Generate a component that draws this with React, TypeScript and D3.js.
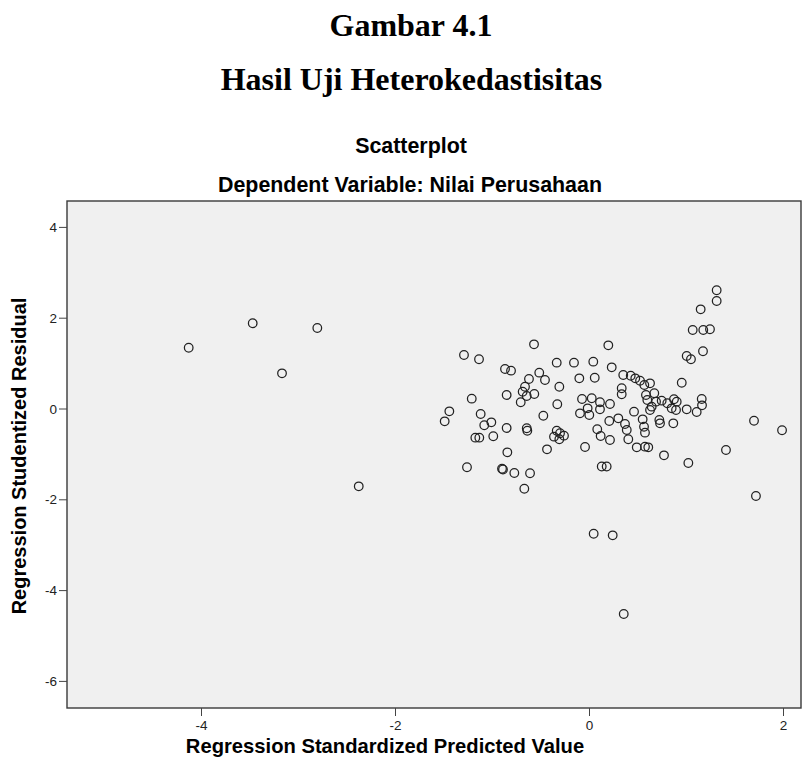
import React from "react";
import * as d3 from "d3";

const xTicks = [-4, -2, 0, 2];
const yTicks = [4, 2, 0, -2, -4, -6];

const predicted = [
  -4.132, -3.472, -2.806, -3.17, -2.379, -1.294, -1.139, -1.214, -1.445, -1.493,
  -1.122, -1.085, -1.012, -1.177, -1.136, -0.992, -1.263, -0.902, -0.892, -0.775,
  -0.613, -0.672, -0.847, -0.438, -0.046, -0.871, -0.809, -0.518, -0.338, -0.16,
  -0.624, -0.459, -0.311, -0.665, -0.689, -0.647, -0.569, -0.709, -0.854, -0.332,
  -0.476, -0.854, -0.647, -0.641, -0.338, -0.366, -0.311, -0.263, -0.304, -0.572,
  0.194, 0.039, 0.229, -0.105, 0.054, 0.348, 0.425, 0.472, 0.521, 0.565,
  0.624, 0.951, 0.332, 0.332, 0.582, 0.668, 0.596, 0.686, 0.641, 0.744,
  0.802, 0.871, 0.899, 0.847, 0.892, 1.002, -0.077, 0.023, 0.108, 0.211,
  0.108, -0.019, -0.098, -0.002, 0.459, 0.624, 0.548, 0.204, 0.297, 0.72,
  0.727, 0.864, 0.366, 0.384, 0.08, 0.562, 0.572, 0.115, 0.211, 0.4,
  0.487, 0.572, 0.606, 0.126, 0.177, 0.768, 1.019, 1.157, 1.16, 1.105,
  1.311, 1.311, 1.146, 1.064, 1.173, 1.242, 1.002, 1.046, 1.17, 1.696,
  1.985, 1.407, 1.716, 0.043, 0.239, 0.353,
];

const residual = [
  1.35, 1.888, 1.784, 0.786, -1.703, 1.189, 1.095, 0.227, -0.051, -0.271,
  -0.11, -0.359, -0.293, -0.632, -0.632, -0.601, -1.284, -1.315, -1.333, -1.41,
  -1.416, -1.756, -0.954, -0.888, -0.837, 0.881, 0.844, 0.8, 1.02, 1.02,
  0.661, 0.639, 0.491, 0.491, 0.381, 0.286, 0.33, 0.148, 0.308, 0.104,
  -0.148, -0.419, -0.425, -0.478, -0.478, -0.61, -0.667, -0.588, -0.535, 1.425,
  1.403, 1.042, 0.918, 0.676, 0.689, 0.749, 0.733, 0.676, 0.623, 0.529,
  0.566, 0.579, 0.456, 0.324, 0.308, 0.346, 0.198, 0.161, 0.051, 0.183,
  0.126, 0.214, 0.161, 0.015, -0.022, -0.007, 0.22, 0.236, 0.148, 0.11,
  -0.007, 0.015, -0.095, -0.132, -0.059, -0.022, -0.227, -0.264, -0.205, -0.242,
  -0.315, -0.315, -0.33, -0.463, -0.447, -0.39, -0.522, -0.595, -0.683, -0.667,
  -0.844, -0.83, -0.844, -1.267, -1.267, -1.02, -1.189, 0.22, 0.081, -0.066,
  2.615, 2.379, 2.196, 1.74, 1.74, 1.756, 1.167, 1.095, 1.271, -0.258,
  -0.469, -0.903, -1.916, -2.747, -2.782, -4.515,
];

const titleLines = ["Gambar 4.1", "Hasil Uji Heterokedastisitas"];
const chartTitle = "Scatterplot";
const chartSubtitle = "Dependent Variable: Nilai Perusahaan";
const xLabel = "Regression Standardized Predicted Value";
const yLabel = "Regression Studentized Residual";

export default function App() {
  const W = 811;
  const H = 769;
  const left = 67;
  const right = 801;
  const top = 201;
  const bottom = 708;

  const x = d3
    .scaleLinear()
    .domain([(left - 589.5) / 97, (right - 589.5) / 97])
    .range([left, right]);
  const y = d3
    .scaleLinear()
    .domain([(409 - bottom) / 45.4, (409 - top) / 45.4])
    .range([bottom, top]);

  const points = predicted.map((p, i) => ({ p, r: residual[i] }));
  const sans = "Arial, 'Liberation Sans', sans-serif";
  const serif = "'Times New Roman', 'Liberation Serif', serif";

  return (
    <svg
      width={W}
      height={H}
      style={{ position: "absolute", left: 0, top: 0, background: "#fff" }}
    >
      <text x={411} y={36} textAnchor="middle" fontFamily={serif} fontWeight="bold" fontSize={32}>
        {titleLines[0]}
      </text>
      <text x={411.5} y={90} textAnchor="middle" fontFamily={serif} fontWeight="bold" fontSize={32}>
        {titleLines[1]}
      </text>
      <text x={411} y={153} textAnchor="middle" fontFamily={sans} fontWeight="bold" fontSize={21.4}>
        {chartTitle}
      </text>
      <text x={410} y={192} textAnchor="middle" fontFamily={sans} fontWeight="bold" fontSize={21.4}>
        {chartSubtitle}
      </text>

      <rect
        x={left}
        y={top}
        width={right - left}
        height={bottom - top}
        fill="#f0f0f0"
        stroke="#3a3a3a"
        strokeWidth={1.4}
      />

      {xTicks.map((t) => (
        <g key={"x" + t}>
          <line x1={x(t)} x2={x(t)} y1={bottom} y2={bottom + 8} stroke="#444" strokeWidth={1} />
          <text x={x(t)} y={730} textAnchor="middle" fontFamily={sans} fontSize={13.5} fill="#222">
            {t}
          </text>
        </g>
      ))}
      {yTicks.map((t) => (
        <g key={"y" + t}>
          <line x1={left - 8} x2={left} y1={y(t)} y2={y(t)} stroke="#444" strokeWidth={1} />
          <text
            x={left - 10}
            y={y(t) + 4.5}
            textAnchor="end"
            fontFamily={sans}
            fontSize={13.5}
            fill="#222"
          >
            {t}
          </text>
        </g>
      ))}

      <text x={385} y={753} textAnchor="middle" fontFamily={sans} fontWeight="bold" fontSize={20.2}>
        {xLabel}
      </text>
      <text
        transform={`translate(26, ${456}) rotate(-90)`}
        textAnchor="middle"
        fontFamily={sans}
        fontWeight="bold"
        fontSize={20}
      >
        {yLabel}
      </text>

      {points.map((d, i) => (
        <circle
          key={i}
          cx={x(d.p)}
          cy={y(d.r)}
          r={4.3}
          fill="none"
          stroke="#222"
          strokeWidth={1.25}
        />
      ))}
    </svg>
  );
}
